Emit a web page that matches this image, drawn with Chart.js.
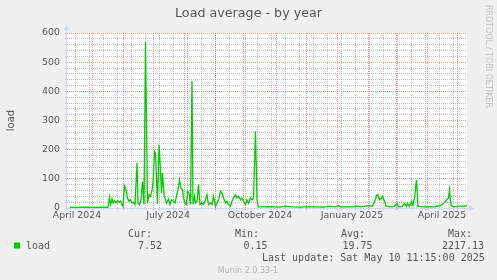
<!DOCTYPE html>
<html>
<head>
<meta charset="utf-8">
<title>Load average - by year</title>
<script src="https://cdn.jsdelivr.net/npm/chart.js@4.4.1/dist/chart.umd.min.js"></script>
<style>
  html, body { margin: 0; padding: 0; background: #f0f0f0; }
  canvas { display: block; }
</style>
</head>
<body>
<canvas id="loadChart" width="497" height="280"></canvas>
<script>
// x = days since 2024-04-06 (munin year graph: last 400 days)
const days = [
  3, 10, 18, 26, 34, 41,
  42.5, 43.5, 45, 46, 47.5, 49, 50.5, 52, 53.5, 55, 56,
  57.5, 59, 60.5, 62, 63.5, 65, 66.5, 68, 70, 71, 72.5, 74, 75.5, 77, 78.5, 80.5, 82, 83.5, 85, 86,
  87.5, 88.5, 90.5, 92, 93.5, 94.5, 95.5, 97, 98, 99.5, 101.5, 103, 104.5, 106.5, 108, 109.5, 111.5, 112.5, 114, 115.5,
  116.5, 118, 119.5, 120.5, 122, 123.5, 125, 126, 127.5, 128.5, 130, 131.5, 133, 134.5, 136.5, 138.5, 140, 141.5, 143.5, 145,
  146.5, 148.5, 150, 151.5, 153.5, 155, 156.5, 158.5, 160, 161.5, 163.5, 165, 166.5, 168.5, 170, 171.5, 173.5, 175, 176.5, 178.5,
  180, 181.5, 183.5, 185, 186.5, 188.5, 190, 191.5,
  196, 204, 212, 218, 226, 234, 240, 248, 256, 262, 268, 271.5, 274, 280, 286, 290, 295, 300, 305,
  307.5, 309.5, 311, 312.5, 314.5, 315.5, 317.5, 319, 323, 327, 330, 331.5, 335, 337.5, 339.5, 340.5, 342.5, 344.5, 346, 347.5,
  349.5, 351, 356, 362, 368, 370, 373.5, 376.5, 379.5, 381.5, 382.5, 384, 386.5, 391.5, 396.5, 400
];
const load = [
  2, 2, 3, 2, 3, 2,
  38, 12, 31, 17, 26, 18, 25, 20, 24, 11, 5,
  76, 63, 34, 23, 28, 17, 20, 11, 154, 16, 11, 26, 91, 12, 571, 17, 46, 40, 60, 86,
  194, 188, 15, 217, 131, 51, 120, 46, 34, 17, 30, 12, 28, 22, 17, 40, 74, 97, 68, 63,
  34, 17, 12, 57, 51, 12, 436, 12, 40, 17, 23, 80, 12, 17, 12, 28, 46, 12, 17, 12,
  40, 6, 17, 28, 57, 51, 34, 17, 23, 12, 6, 23, 34, 46, 34, 40, 28, 34, 23, 12,
  28, 17, 34, 28, 34, 263, 28, 4,
  4, 5, 3, 6, 4, 3, 5, 4, 3, 6, 4, 8, 4, 5, 4, 6, 4, 8, 6,
  20, 43, 46, 28, 34, 40, 23, 7, 4, 5, 15, 4, 5, 15, 5, 17, 5, 23, 8, 34,
  97, 6, 4, 5, 4, 6, 8, 15, 28, 34, 63, 8, 4, 6, 6, 7.5
];

// x axis: month starts (red grid), labels centred mid-month
const monthStarts = [25, 56, 86, 117, 148, 178, 209, 239, 270, 301, 329, 360, 390];
const labelDays = [10, 101, 193, 285, 375];
const labelText = ['April 2024', 'July 2024', 'October 2024', 'January 2025', 'April 2025'];

const legendHead = ['Cur:', 'Min:', 'Avg:', 'Max:'];
const legendVals = ['7.52', '0.15', '19.75', '2217.13'];
const lastUpdate = 'Last update: Sat May 10 11:15:00 2025';

const minorColor = 'rgba(140,140,140,0.5)';
const majorColor = 'rgba(222,79,79,0.55)';
const axisColor = '#cfd6f8';
const textColor = '#555555';

const xTicks = [];
for (let d = 8; d < 400; d += 14) xTicks.push({ value: d, kind: 'minor' });
labelDays.forEach((d, i) => xTicks.push({ value: d, kind: 'label', text: labelText[i] }));
monthStarts.forEach(d => xTicks.push({ value: d, kind: 'major' }));

const muninDecor = {
  id: 'muninDecor',
  beforeDraw(chart) {
    const { ctx, chartArea: a } = chart;
    ctx.save();
    ctx.fillStyle = '#f0f0f0';
    ctx.fillRect(0, 0, chart.width, chart.height);
    ctx.fillStyle = '#ffffff';
    ctx.fillRect(a.left, a.top, a.right - a.left, a.bottom - a.top);
    ctx.restore();
  },
  beforeDatasetsDraw(chart) {
    const { ctx, chartArea: a } = chart;
    const x0 = Math.round(a.left) - 0.5, y0 = Math.round(a.bottom) + 0.5;
    ctx.save();
    ctx.strokeStyle = axisColor;
    ctx.fillStyle = axisColor;
    ctx.lineWidth = 1;
    ctx.beginPath();
    ctx.moveTo(x0, y0 + 2);
    ctx.lineTo(x0, a.top - 5);
    ctx.moveTo(x0 - 2, y0);
    ctx.lineTo(a.right + 4, y0);
    ctx.stroke();
    ctx.beginPath();
    ctx.moveTo(x0 - 3, a.top - 3);
    ctx.lineTo(x0 + 3, a.top - 3);
    ctx.lineTo(x0, a.top - 8);
    ctx.closePath();
    ctx.fill();
    ctx.beginPath();
    ctx.moveTo(a.right + 2, y0 - 3);
    ctx.lineTo(a.right + 2, y0 + 3);
    ctx.lineTo(a.right + 7, y0);
    ctx.closePath();
    ctx.fill();
    ctx.restore();
  },
  afterDraw(chart) {
    const ctx = chart.ctx;
    ctx.save();
    ctx.fillStyle = textColor;
    ctx.textBaseline = 'alphabetic';
    ctx.textAlign = 'center';
    ctx.font = '12.7px "DejaVu Sans"';
    ctx.fillText('Load average - by year', 248.5, 17);

    ctx.textAlign = 'left';
    ctx.font = '10px "DejaVu Sans Mono"';
    const headX = [128, 235, 341, 448];
    const valX = [138, 243.5, 342.5, 442];
    legendHead.forEach((t, i) => ctx.fillText(t, headX[i], 237.3));
    legendVals.forEach((t, i) => ctx.fillText(t, valX[i], 249));
    ctx.fillText('load', 26, 249);
    ctx.fillText(lastUpdate, 262, 260.6);
    ctx.fillStyle = '#00cc00';
    ctx.fillRect(14, 242.5, 6, 6);

    ctx.fillStyle = '#b4b4b4';
    ctx.textAlign = 'center';
    ctx.font = '8px "DejaVu Sans"';
    ctx.fillText('Munin 2.0.33-1', 248, 273);

    ctx.fillStyle = '#c0c0c0';
    ctx.textAlign = 'left';
    ctx.translate(486, 5);
    ctx.rotate(Math.PI / 2);
    ctx.fillText('RRDTOOL / TOBI OETIKER', 0, 0);
    ctx.restore();
  }
};

new Chart(document.getElementById('loadChart'), {
  type: 'line',
  data: {
    datasets: [{
      label: 'load',
      data: days.map((d, i) => ({ x: d, y: load[i] })),
      borderColor: '#00cc00',
      borderWidth: 1.3,
      pointRadius: 0,
      tension: 0,
      fill: false
    }]
  },
  options: {
    responsive: false,
    animation: false,
    devicePixelRatio: 1,
    layout: { padding: { top: 33, right: 30, bottom: 0, left: 0 } },
    plugins: {
      legend: { display: false },
      title: { display: false },
      tooltip: { enabled: false }
    },
    scales: {
      x: {
        type: 'linear',
        min: 0,
        max: 400,
        afterBuildTicks: s => { s.ticks = xTicks.map(t => Object.assign({}, t)); },
        afterFit: s => { s.height = 72; },
        grid: {
          color: c => !c.tick ? 'rgba(0,0,0,0)' : c.tick.kind === 'major' ? majorColor : c.tick.kind === 'minor' ? minorColor : 'rgba(0,0,0,0)',
          tickLength: 2
        },
        border: { display: false, dash: [1, 1] },
        ticks: {
          autoSkip: false,
          maxRotation: 0,
          minRotation: 0,
          padding: 0,
          color: textColor,
          font: { family: 'DejaVu Sans', size: 9.4 },
          callback: (v, i, ticks) => ticks[i].kind === 'label' ? ticks[i].text : ''
        }
      },
      y: {
        min: 0,
        max: 600,
        afterFit: s => { s.width = 67; },
        grid: {
          color: c => c.tick && c.tick.value % 100 === 0 ? majorColor : minorColor,
          tickLength: 2
        },
        border: { display: false, dash: [1, 1] },
        ticks: {
          stepSize: 20,
          autoSkip: false,
          padding: 5,
          color: textColor,
          font: { family: 'DejaVu Sans', size: 9.4 },
          callback: v => v % 100 === 0 ? String(v) : ''
        },
        title: {
          display: true,
          text: 'load',
          color: textColor,
          font: { family: 'DejaVu Sans', size: 10 },
          padding: { top: 5, bottom: 0 }
        }
      }
    }
  },
  plugins: [muninDecor]
});
</script>
</body>
</html>
